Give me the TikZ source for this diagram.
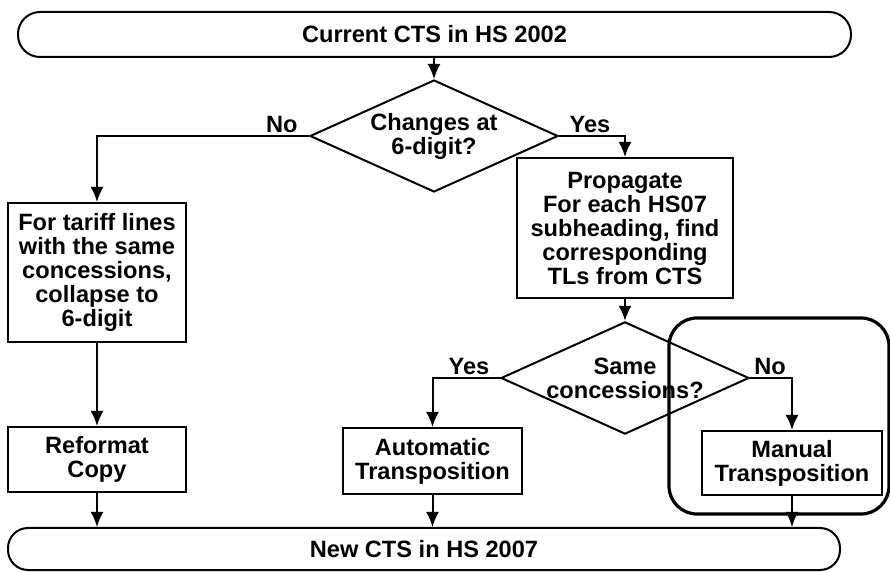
\documentclass[tikz,border=0pt]{standalone}
\usepackage{fontspec}
\setmainfont{Liberation Sans}
\usetikzlibrary{shapes.geometric,arrows.meta}

\begin{document}
\begin{tikzpicture}[x=0.5pt,y=-0.5pt,
                    font=\fontsize{11.8}{12}\selectfont\bfseries,
                    line width=1pt,>={Latex[length=7.5pt,width=6.5pt]},
                    term/.style={draw,rounded corners=11pt,minimum width=416.5pt,minimum height=22.5pt},
                    box/.style={draw,align=center,inner sep=0pt},
                    test/.style={draw,diamond,align=center,inner sep=0pt,shape aspect=2.2,
                                 minimum width=124pt,minimum height=56pt},
                    lbl/.style={above,inner sep=1pt}]
\useasboundingbox (0,0) rectangle (890,572);

\node[term] (cur) at (434.5,34.5) {Current CTS in HS 2002};
\node[test] (chg) at (434,136) {Changes at\\6-digit?};
\node[box,minimum width=89pt,minimum height=69.5pt] (col) at (97,272.5)
  {For tariff lines\\with the same\\concessions,\\collapse to\\6-digit};
\node[box,minimum width=108pt,minimum height=70pt] (prop) at (625,228)
  {Propagate\\For each HS07\\subheading, find\\corresponding\\TLs from CTS};
\node[box,minimum width=89pt,minimum height=32.5pt] (ref) at (97,459.5) {Reformat\\Copy};
\node[test] (same) at (625,378) {Same\\concessions?};
\node[box,minimum width=89.5pt,minimum height=33pt] (auto) at (432.5,461) {Automatic\\Transposition};
\node[box,minimum width=90pt,minimum height=32pt] (man) at (792,463) {Manual\\Transposition};
\node[term,rounded corners=10pt,minimum width=416pt,minimum height=21pt] (new) at (424,549) {New CTS in HS 2007};
\node[draw,line width=1.6pt,rounded corners=14pt,minimum width=110pt,minimum height=98pt] (hl) at (779,416) {};

\draw[->] (chg.north |- cur.south) -- (chg.north);
\draw[->] (chg.west) -| node[lbl,pos=0.064] (no1) {No} (col.north);
\draw[->] (chg.east) -| node[lbl,pos=0.235] (yes1) {Yes} (prop.north);
\draw[->] (col) -- (ref);
\draw[->] (prop) -- (same);
\draw[->] (same.west) -| node[lbl,pos=0.23] (yes2) {Yes} (auto.north);
\draw[->] (same.east) -| node[lbl,pos=0.24] (no2) {No} (man.north);
\draw[->] (ref.south) -- (ref.south |- new.north);
\draw[->] (auto.south) -- (auto.south |- new.north);
\draw[->] (man.south) -- (man.south |- new.north);
\end{tikzpicture}
\end{document}
